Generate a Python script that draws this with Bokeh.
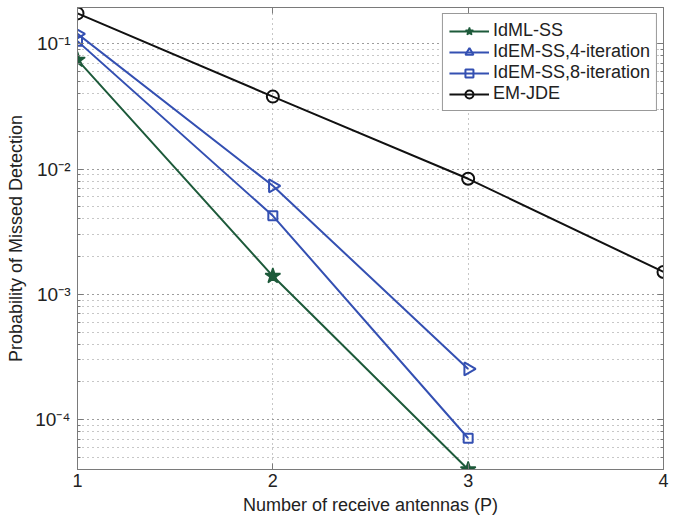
import math
from bokeh.plotting import figure
from bokeh.models import (LogAxis, LinearAxis, Legend, LegendItem, CustomJSTickFormatter,
                          FixedTicker, LogTicker, Range1d)
from bokeh.embed import file_html
from bokeh.resources import INLINE

# ---- data ----
antennas = [1, 2, 3, 4]
idml_ss = [0.0745, 0.0014, 4.0e-5]
idem_4 = [0.120, 0.00736, 2.54e-4]
idem_8 = [0.105, 0.00424, 7.1e-5]
em_jde = [0.175, 0.0379, 0.00837, 0.00151]
x_ticks = [1, 2, 3, 4]
labels = ["IdML-SS", "IdEM-SS,4-iteration", "IdEM-SS,8-iteration", "EM-JDE"]

GREEN = "#1d5a3a"
BLUE = "#3450b2"
BLACK = "#111111"
FONT = "Liberation Sans"
GRID = "#8f8f8f"
AXC = "#7a7a7a"

p = figure(width=690, height=519, y_axis_type="log",
           x_range=Range1d(1, 4), y_range=Range1d(4.0e-5, 0.195),
           output_backend="svg", toolbar_location=None,
           min_border_left=77, min_border_right=27, min_border_top=7, min_border_bottom=50)

p.outline_line_color = AXC
p.background_fill_color = "white"
p.border_fill_color = "white"

sup = CustomJSTickFormatter(code="""
const m = {'-':'\u207b','0':'\u2070','1':'\u00b9','2':'\u00b2','3':'\u00b3','4':'\u2074','5':'\u2075','6':'\u2076','7':'\u2077','8':'\u2078','9':'\u2079'};
const e = Math.round(Math.log10(tick));
return '10' + String(e).split('').map(c => m[c]).join('');
""")

# axes
xa = p.xaxis[0]
xa.ticker = FixedTicker(ticks=x_ticks)
xa.axis_label = "Number of receive antennas (P)"
ya = p.yaxis[0]
ya.ticker = LogTicker(num_minor_ticks=10)
ya.formatter = sup
ya.axis_label = "Probability of Missed Detection"
for ax in (xa, ya):
    ax.axis_line_color = AXC
    ax.major_tick_line_color = AXC
    ax.minor_tick_line_color = AXC
    ax.major_tick_in = 6
    ax.major_tick_out = 0
    ax.minor_tick_in = 3
    ax.minor_tick_out = 0
    ax.major_label_text_font = FONT
    ax.major_label_text_font_size = "18px"
    ax.major_label_text_color = "#222222"
    ax.axis_label_text_font = FONT
    ax.axis_label_text_font_size = "18px"
    ax.axis_label_text_font_style = "normal"
    ax.axis_label_text_color = "#222222"
ya.major_label_text_font_size = "19px"
xa.major_label_standoff = 4
xa.axis_label_standoff = 5
ya.major_label_standoff = 7
ya.axis_label_standoff = 6
xa.minor_tick_line_color = None

blank = CustomJSTickFormatter(code="return '';")
ra = LogAxis(ticker=LogTicker(num_minor_ticks=10), formatter=blank, axis_line_color=AXC,
             major_tick_line_color=AXC, minor_tick_line_color=AXC, major_tick_in=6, major_tick_out=0,
             minor_tick_in=3, minor_tick_out=0, major_label_standoff=0, major_label_text_font_size="1px")
p.add_layout(ra, "right")
ta = LinearAxis(ticker=FixedTicker(ticks=x_ticks), formatter=blank, axis_line_color=AXC,
                major_tick_line_color=AXC, major_tick_in=6, major_tick_out=0,
                minor_tick_line_color=None, major_label_standoff=0, major_label_text_font_size="1px")
p.add_layout(ta, "above")

# grids
p.xgrid.grid_line_color = GRID
p.xgrid.grid_line_dash = "1 4"
p.ygrid.grid_line_color = GRID
p.ygrid.grid_line_dash = "1 4"
p.ygrid.minor_grid_line_color = GRID
p.ygrid.minor_grid_line_dash = "1 4"

# series
items = []
r1 = p.line(antennas[:3], idml_ss, line_color=GREEN, line_width=2)
m1 = p.scatter(antennas[:3], idml_ss, marker="star", size=16, fill_color=GREEN, line_color=GREEN, line_width=1.5)
items.append(LegendItem(label=labels[0], renderers=[r1, m1]))

r2 = p.line(antennas[:3], idem_4, line_color=BLUE, line_width=2)
m2 = p.scatter(antennas[:3], idem_4, marker="triangle", angle=-math.pi / 2, size=13,
               fill_color=None, line_color=BLUE, line_width=2)
items.append(LegendItem(label=labels[1], renderers=[r2, m2]))

r3 = p.line(antennas[:3], idem_8, line_color=BLUE, line_width=2)
m3 = p.scatter(antennas[:3], idem_8, marker="square", size=9,
               fill_color=None, line_color=BLUE, line_width=2)
items.append(LegendItem(label=labels[2], renderers=[r3, m3]))

r4 = p.line(antennas, em_jde, line_color=BLACK, line_width=2)
m4 = p.scatter(antennas, em_jde, marker="circle", size=12,
               fill_color=None, line_color=BLACK, line_width=2)
items.append(LegendItem(label=labels[3], renderers=[r4, m4]))

legend = Legend(items=items, location="top_right", margin=6, padding=6, spacing=0,
                glyph_width=40, glyph_height=20, label_height=20, label_standoff=4,
                label_text_font=FONT, label_text_font_size="18px", label_text_color="#222222",
                border_line_color="#333333", border_line_width=1,
                background_fill_color="white", background_fill_alpha=1.0)
p.add_layout(legend)

open("out.html", "w").write(file_html(p, INLINE))
